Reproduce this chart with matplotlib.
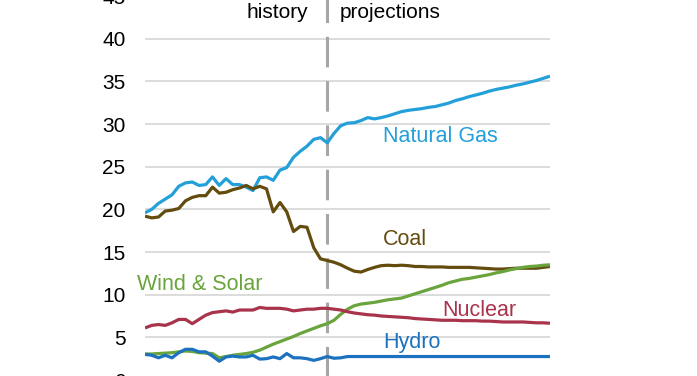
import matplotlib
matplotlib.use("Agg")
import matplotlib.pyplot as plt

plt.rcParams["font.family"] = ["Liberation Sans", "DejaVu Sans"]

years = list(range(1990, 2051))
last_history = 2017

# 1990-2017 history, 2018-2050 projections
natural_gas = [19.6, 20.0, 20.7, 21.2, 21.7, 22.7, 23.1, 23.2, 22.8, 22.9,
               23.8, 22.8, 23.6, 22.9, 22.9, 22.6, 22.2, 23.7, 23.8, 23.4,
               24.6, 24.9, 26.1, 26.8, 27.4, 28.2, 28.4, 27.8,
               28.9, 29.8, 30.1, 30.15, 30.4, 30.75, 30.6, 30.75, 30.95, 31.2,
               31.45, 31.6, 31.7, 31.8, 31.95, 32.05, 32.25, 32.45, 32.75, 32.95,
               33.2, 33.4, 33.6, 33.85, 34.05, 34.2, 34.35, 34.55, 34.7, 34.9,
               35.1, 35.35, 35.6]
coal = [19.2, 19.0, 19.1, 19.8, 19.9, 20.1, 21.0, 21.4, 21.6, 21.6,
        22.6, 21.9, 22.0, 22.3, 22.5, 22.8, 22.4, 22.7, 22.4, 19.7,
        20.8, 19.7, 17.4, 18.0, 17.9, 15.5, 14.2, 14.0,
        13.8, 13.5, 13.1, 12.75, 12.65, 12.95, 13.2, 13.4, 13.45, 13.4,
        13.45, 13.4, 13.3, 13.3, 13.25, 13.25, 13.25, 13.2, 13.2, 13.2,
        13.2, 13.15, 13.1, 13.05, 13.0, 13.0, 13.05, 13.1, 13.1, 13.1,
        13.1, 13.2, 13.3]
wind_solar = [3.05, 3.05, 3.1, 3.15, 3.2, 3.3, 3.4, 3.35, 3.2, 3.15,
              3.1, 2.6, 2.75, 2.9, 3.0, 3.1, 3.25, 3.5, 3.85, 4.2,
              4.5, 4.8, 5.1, 5.45, 5.75, 6.05, 6.35, 6.6,
              7.0, 7.7, 8.3, 8.7, 8.9, 9.0, 9.1, 9.25, 9.4, 9.5,
              9.6, 9.85, 10.1, 10.35, 10.6, 10.85, 11.1, 11.4, 11.6, 11.8,
              11.9, 12.05, 12.2, 12.35, 12.55, 12.7, 12.9, 13.05, 13.2, 13.3,
              13.35, 13.45, 13.5]
nuclear = [6.1, 6.4, 6.5, 6.4, 6.7, 7.1, 7.1, 6.6, 7.1, 7.6,
           7.9, 8.0, 8.1, 7.96, 8.2, 8.2, 8.2, 8.5, 8.4, 8.4,
           8.4, 8.3, 8.1, 8.2, 8.3, 8.3, 8.4, 8.4,
           8.3, 8.2, 8.0, 7.85, 7.75, 7.65, 7.6, 7.5, 7.45, 7.4,
           7.35, 7.3, 7.2, 7.15, 7.1, 7.05, 7.0, 7.0, 7.0, 6.95,
           6.95, 6.95, 6.9, 6.9, 6.85, 6.8, 6.8, 6.8, 6.8, 6.75,
           6.7, 6.7, 6.65]
hydro = [3.0, 2.9, 2.6, 2.9, 2.6, 3.2, 3.6, 3.6, 3.3, 3.3,
         2.8, 2.2, 2.7, 2.8, 2.7, 2.7, 2.9, 2.45, 2.5, 2.7,
         2.5, 3.1, 2.6, 2.6, 2.5, 2.3, 2.5, 2.75,
         2.55, 2.6, 2.75, 2.75, 2.75, 2.75, 2.75, 2.75, 2.75, 2.75,
         2.75, 2.75, 2.75, 2.75, 2.75, 2.75, 2.75, 2.75, 2.75, 2.75,
         2.75, 2.75, 2.75, 2.75, 2.75, 2.75, 2.75, 2.75, 2.75, 2.75,
         2.75, 2.75, 2.75]

series = [
    (natural_gas, "Natural Gas", "#239fd9", 2025.3, 28.5),
    (coal, "Coal", "#634c0e", 2025.3, 16.5),
    (wind_solar, "Wind & Solar", "#6aa43c", 1988.8, 11.25),
    (nuclear, "Nuclear", "#a8334b", 2034.1, 8.2),
    (hydro, "Hydro", "#1d72bf", 2025.3, 4.45),
]

fig = plt.figure(figsize=(6.97, 3.76), dpi=100)
# axes run a little past the figure edges, the reference is cropped at 0 and 45
ax = fig.add_axes([145 / 697, -4 / 376, 405 / 697, 384 / 376])

for vals, name, col, tx, ty in series:
    ax.plot(years, vals, color=col, lw=2.3, solid_capstyle="butt", zorder=3)
    ax.text(tx, ty, name, color=col, fontsize=15.5, ha="left", va="center",
            clip_on=False)

ax.axvline(last_history, color="#a6a6a6", lw=2.2, dashes=(10, 4.5), zorder=2)
ax.text(last_history - 2.85, 43.1, "history", fontsize=15, ha="right", va="center")
ax.text(last_history + 1.9, 43.1, "projections", fontsize=15, ha="left", va="center")

ax.set_xlim(1990, 2050)
ax.set_ylim(0, 45)
ax.set_yticks(range(0, 50, 5))
ax.set_xticks([])
ax.grid(axis="y", color="#d9d9d9", lw=1.3)
ax.set_axisbelow(True)
for s in ax.spines.values():
    s.set_visible(False)
ax.tick_params(axis="y", length=0, pad=14, labelsize=15)

fig.savefig("out.png", dpi=100)
